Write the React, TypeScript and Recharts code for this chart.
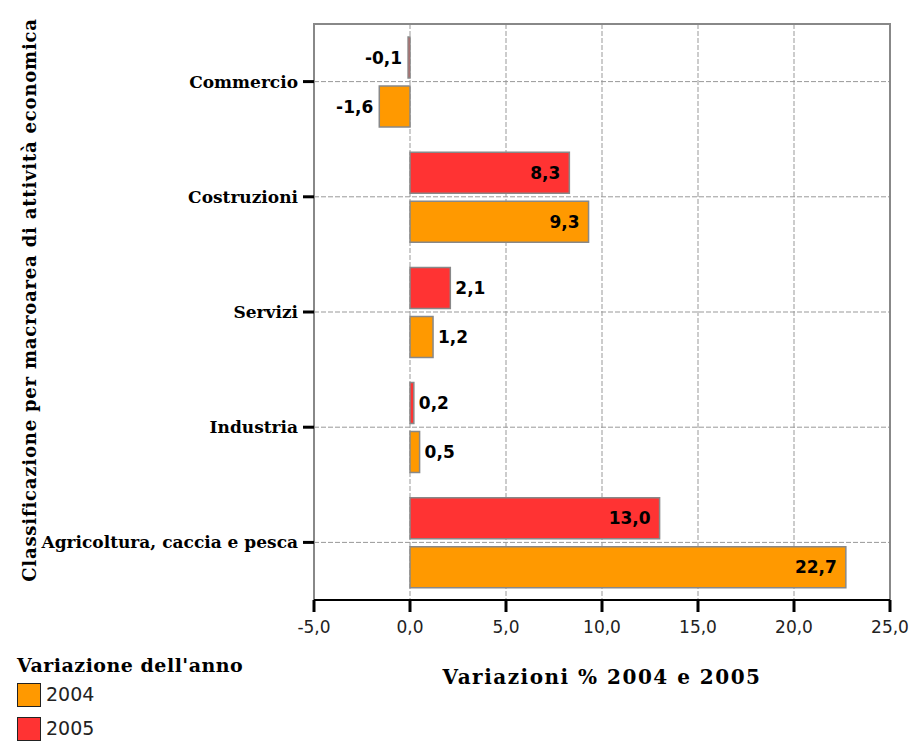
import React from 'react';
import { BarChart, Bar, XAxis, YAxis, CartesianGrid, ReferenceArea, LabelList } from 'recharts';

// categories, top to bottom
const categories = ['Commercio', 'Costruzioni', 'Servizi', 'Industria', 'Agricoltura, caccia e pesca'];
const values2004 = [-1.6, 9.3, 1.2, 0.5, 22.7];
const values2005 = [-0.1, 8.3, 2.1, 0.2, 13.0];
const xTicks = [-5, 0, 5, 10, 15, 20, 25];

const data = categories.map((name, i) => ({ name, v2004: values2004[i], v2005: values2005[i] }));

const fmt = (v: number) => v.toFixed(1).replace('.', ',');

const serif = '"DejaVu Serif", serif';
const sans = '"DejaVu Sans", sans-serif';

const ValueLabel = (props: any) => {
  const { x, y, width, height, value } = props;
  const end = x + width;
  let tx: number;
  let anchor: 'start' | 'end';
  if (value < 0) {
    tx = Math.min(x, end) - 6;
    anchor = 'end';
  } else if (width > 50) {
    tx = end - 9;
    anchor = 'end';
  } else {
    tx = end + 5;
    anchor = 'start';
  }
  return (
    <text
      x={tx}
      y={y + height / 2}
      dy="0.36em"
      textAnchor={anchor}
      fontFamily={sans}
      fontWeight="bold"
      fontSize={17}
      fill="#000"
    >
      {fmt(value)}
    </text>
  );
};

export default function App() {
  return (
    <div style={{ position: 'absolute', left: 0, top: 0, width: 914, height: 743, background: '#fff' }}>
      <BarChart
        width={914}
        height={743}
        data={data}
        layout="vertical"
        margin={{ top: 24, right: 24, left: 14, bottom: 103 }}
        barCategoryGap={13}
        barGap={8}
      >
        <CartesianGrid stroke="#999" strokeDasharray="5 2" />
        <ReferenceArea x1={-5} x2={25} fill="none" stroke="#888" strokeWidth={2} />
        <XAxis
          type="number"
          domain={[-5, 25]}
          ticks={xTicks}
          tickFormatter={fmt}
          height={40}
          tickSize={12}
          tickMargin={9}
          axisLine={{ stroke: '#000', strokeWidth: 2 }}
          tickLine={{ stroke: '#000', strokeWidth: 3 }}
          tick={{ fontFamily: sans, fontSize: 17, fill: '#222' }}
        />
        <YAxis
          type="category"
          dataKey="name"
          width={300}
          tickSize={11}
          tickMargin={5}
          axisLine={false}
          tickLine={{ stroke: '#000', strokeWidth: 3 }}
          tick={{ fontFamily: serif, fontWeight: 'bold', fontSize: 17, fill: '#000' }}
        />
        <Bar dataKey="v2005" fill="#FF3333" stroke="#888" strokeWidth={1.5} isAnimationActive={false}>
          <LabelList dataKey="v2005" content={ValueLabel} />
        </Bar>
        <Bar dataKey="v2004" fill="#FF9900" stroke="#888" strokeWidth={1.5} isAnimationActive={false}>
          <LabelList dataKey="v2004" content={ValueLabel} />
        </Bar>
      </BarChart>

      {/* y axis title */}
      <div
        style={{
          position: 'absolute',
          left: 29,
          top: 300,
          transform: 'translate(-50%, -50%) rotate(-90deg)',
          whiteSpace: 'nowrap',
          fontFamily: serif,
          fontWeight: 'bold',
          fontSize: 18,
          letterSpacing: 0.8,
          color: '#000',
        }}
      >
        Classificazione per macroarea di attività economica
      </div>

      {/* x axis title */}
      <div
        style={{
          position: 'absolute',
          left: 602,
          top: 677,
          transform: 'translate(-50%, -50%)',
          whiteSpace: 'nowrap',
          fontFamily: serif,
          fontWeight: 'bold',
          fontSize: 20,
          letterSpacing: 1.5,
          color: '#000',
        }}
      >
        Variazioni % 2004 e 2005
      </div>

      {/* legend */}
      <div
        style={{
          position: 'absolute',
          left: 17,
          top: 654,
          whiteSpace: 'nowrap',
          fontFamily: serif,
          fontWeight: 'bold',
          fontSize: 19,
          letterSpacing: 0.5,
          color: '#000',
          lineHeight: '22px',
        }}
      >
        Variazione dell'anno
      </div>
      {[
        { label: '2004', color: '#FF9900', top: 682 },
        { label: '2005', color: '#FF3333', top: 716 },
      ].map((it) => (
        <div key={it.label} style={{ position: 'absolute', left: 17, top: it.top, display: 'flex', alignItems: 'center' }}>
          <div style={{ width: 22, height: 22, background: it.color, border: '1.5px solid #222' }} />
          <span style={{ marginLeft: 5, fontFamily: sans, fontSize: 19, color: '#222', lineHeight: '25px' }}>{it.label}</span>
        </div>
      ))}
    </div>
  );
}
